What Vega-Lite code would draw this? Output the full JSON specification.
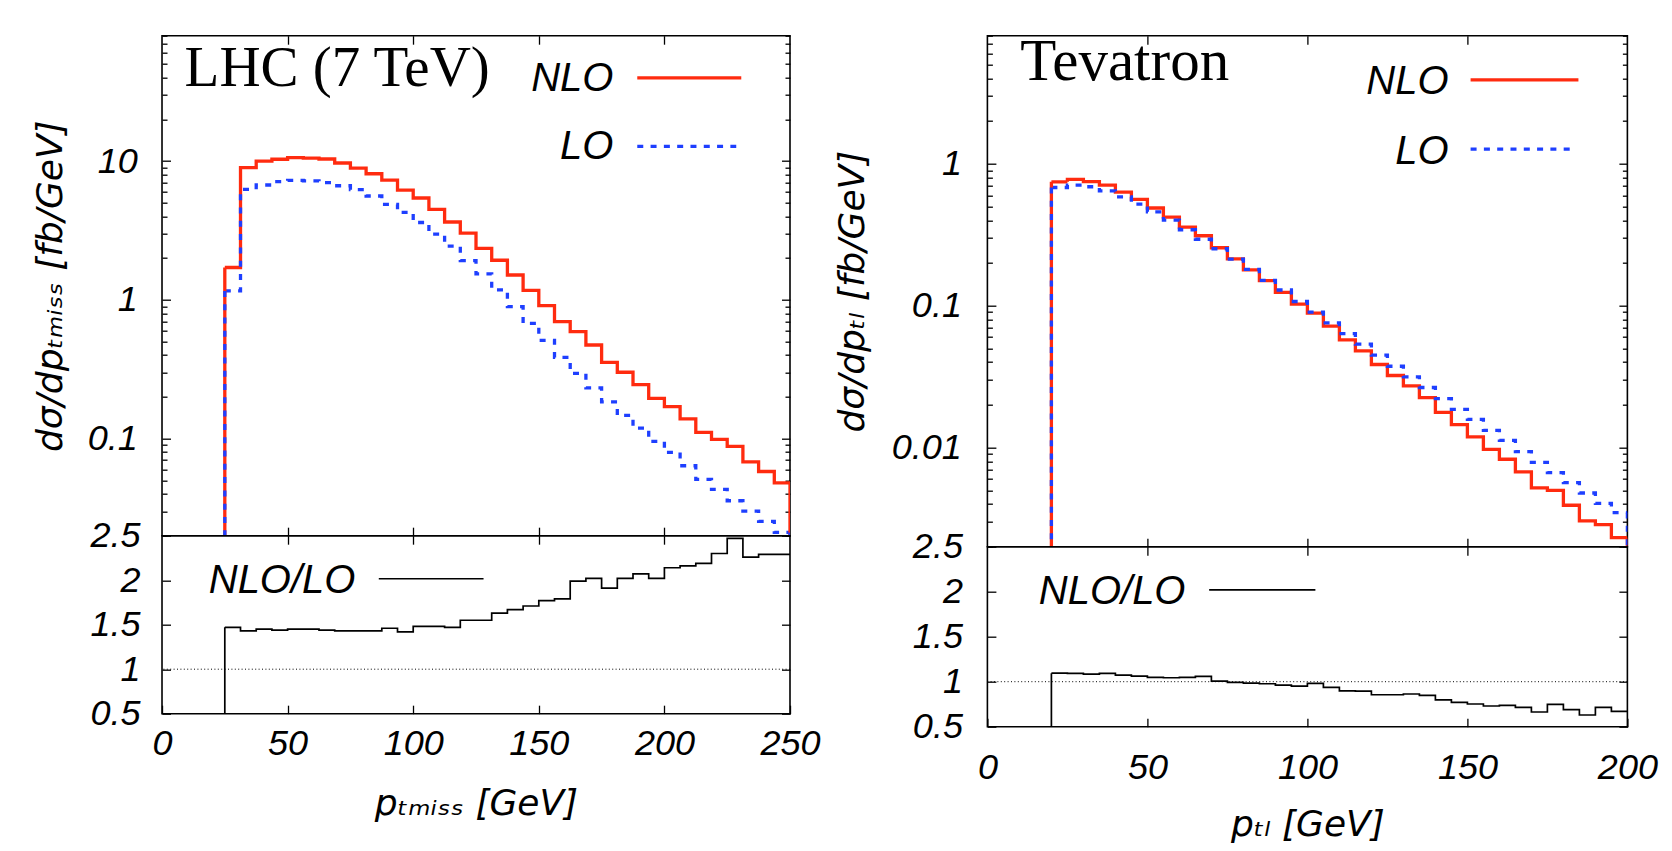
{
  "$schema": "https://vega.github.io/schema/vega-lite/v6.json",
  "background": "white",
  "padding": {"left": 31, "top": 31.7, "right": 5, "bottom": 5},
  "autosize": {"type": "pad"},
  "datasets": {
    "lhc": [
      {"a":25,"b":31.25,"NLO":1.71,"LO":1.16,"R":1.47},
      {"a":31.25,"b":37.5,"NLO":8.96,"LO":6.25,"R":1.43},
      {"a":37.5,"b":43.75,"NLO":10.0,"LO":6.72,"R":1.45},
      {"a":43.75,"b":50,"NLO":10.3,"LO":7.1,"R":1.44},
      {"a":50,"b":56.25,"NLO":10.6,"LO":7.25,"R":1.45},
      {"a":56.25,"b":62.5,"NLO":10.5,"LO":7.2,"R":1.45},
      {"a":62.5,"b":68.75,"NLO":10.35,"LO":7.0,"R":1.44},
      {"a":68.75,"b":75,"NLO":9.68,"LO":6.64,"R":1.43},
      {"a":75,"b":81.25,"NLO":8.9,"LO":6.22,"R":1.43},
      {"a":81.25,"b":87.5,"NLO":8.1,"LO":5.6,"R":1.43},
      {"a":87.5,"b":93.75,"NLO":7.3,"LO":4.87,"R":1.46},
      {"a":93.75,"b":100,"NLO":6.18,"LO":4.27,"R":1.42},
      {"a":100,"b":106.25,"NLO":5.42,"LO":3.61,"R":1.48},
      {"a":106.25,"b":112.5,"NLO":4.48,"LO":2.98,"R":1.48},
      {"a":112.5,"b":118.75,"NLO":3.64,"LO":2.44,"R":1.47},
      {"a":118.75,"b":125,"NLO":3.03,"LO":1.92,"R":1.55},
      {"a":125,"b":131.25,"NLO":2.35,"LO":1.54,"R":1.55},
      {"a":131.25,"b":137.5,"NLO":1.93,"LO":1.18,"R":1.63},
      {"a":137.5,"b":143.75,"NLO":1.51,"LO":0.893,"R":1.67},
      {"a":143.75,"b":150,"NLO":1.17,"LO":0.676,"R":1.71},
      {"a":150,"b":156.25,"NLO":0.908,"LO":0.511,"R":1.77},
      {"a":156.25,"b":162.5,"NLO":0.696,"LO":0.385,"R":1.79},
      {"a":162.5,"b":168.75,"NLO":0.59,"LO":0.295,"R":1.99},
      {"a":168.75,"b":175,"NLO":0.473,"LO":0.232,"R":2.02},
      {"a":175,"b":181.25,"NLO":0.355,"LO":0.184,"R":1.91},
      {"a":181.25,"b":187.5,"NLO":0.301,"LO":0.147,"R":2.02},
      {"a":187.5,"b":193.75,"NLO":0.245,"LO":0.119,"R":2.07},
      {"a":193.75,"b":200,"NLO":0.195,"LO":0.0955,"R":2.02},
      {"a":200,"b":206.25,"NLO":0.17,"LO":0.0796,"R":2.14},
      {"a":206.25,"b":212.5,"NLO":0.139,"LO":0.0638,"R":2.16},
      {"a":212.5,"b":218.75,"NLO":0.111,"LO":0.0509,"R":2.19},
      {"a":218.75,"b":225,"NLO":0.099,"LO":0.0431,"R":2.3},
      {"a":225,"b":231.25,"NLO":0.088,"LO":0.0357,"R":2.47},
      {"a":231.25,"b":237.5,"NLO":0.068,"LO":0.0301,"R":2.26},
      {"a":237.5,"b":243.75,"NLO":0.058,"LO":0.0254,"R":2.29},
      {"a":243.75,"b":250,"NLO":0.048,"LO":0.0211,"R":2.29}
    ],
    "tev": [
      {"a":20,"b":25,"NLO":0.747,"LO":0.681,"R":1.095},
      {"a":25,"b":30,"NLO":0.776,"LO":0.708,"R":1.092},
      {"a":30,"b":35,"NLO":0.75,"LO":0.689,"R":1.084},
      {"a":35,"b":40,"NLO":0.708,"LO":0.645,"R":1.092},
      {"a":40,"b":45,"NLO":0.632,"LO":0.585,"R":1.073},
      {"a":45,"b":50,"NLO":0.561,"LO":0.52,"R":1.062},
      {"a":50,"b":55,"NLO":0.488,"LO":0.459,"R":1.047},
      {"a":55,"b":60,"NLO":0.421,"LO":0.401,"R":1.044},
      {"a":60,"b":65,"NLO":0.358,"LO":0.343,"R":1.047},
      {"a":65,"b":70,"NLO":0.311,"LO":0.294,"R":1.058},
      {"a":70,"b":75,"NLO":0.256,"LO":0.252,"R":1.007},
      {"a":75,"b":80,"NLO":0.214,"LO":0.213,"R":0.992},
      {"a":80,"b":85,"NLO":0.179,"LO":0.18,"R":0.985},
      {"a":85,"b":90,"NLO":0.15,"LO":0.151,"R":0.977},
      {"a":90,"b":95,"NLO":0.124,"LO":0.129,"R":0.962},
      {"a":95,"b":100,"NLO":0.1025,"LO":0.107,"R":0.951},
      {"a":100,"b":105,"NLO":0.0885,"LO":0.09,"R":0.981},
      {"a":105,"b":110,"NLO":0.0717,"LO":0.0757,"R":0.936},
      {"a":110,"b":115,"NLO":0.0574,"LO":0.0636,"R":0.899},
      {"a":115,"b":120,"NLO":0.048,"LO":0.0535,"R":0.895},
      {"a":120,"b":125,"NLO":0.0385,"LO":0.0448,"R":0.855},
      {"a":125,"b":130,"NLO":0.0322,"LO":0.0374,"R":0.855},
      {"a":130,"b":135,"NLO":0.0272,"LO":0.0315,"R":0.863},
      {"a":135,"b":140,"NLO":0.0225,"LO":0.0265,"R":0.847},
      {"a":140,"b":145,"NLO":0.0177,"LO":0.0221,"R":0.799},
      {"a":145,"b":150,"NLO":0.0145,"LO":0.0186,"R":0.77},
      {"a":150,"b":155,"NLO":0.0119,"LO":0.0158,"R":0.752},
      {"a":155,"b":160,"NLO":0.00972,"LO":0.0132,"R":0.73},
      {"a":160,"b":165,"NLO":0.00827,"LO":0.01125,"R":0.737},
      {"a":165,"b":170,"NLO":0.00673,"LO":0.00936,"R":0.714},
      {"a":170,"b":175,"NLO":0.00519,"LO":0.00787,"R":0.663},
      {"a":175,"b":180,"NLO":0.00499,"LO":0.00666,"R":0.748},
      {"a":180,"b":185,"NLO":0.00392,"LO":0.00566,"R":0.689},
      {"a":185,"b":190,"NLO":0.00304,"LO":0.00478,"R":0.63},
      {"a":190,"b":195,"NLO":0.00286,"LO":0.00404,"R":0.714},
      {"a":195,"b":200,"NLO":0.00232,"LO":0.00348,"R":0.67}
    ]
  },
  "spacing": 12.4,
  "hconcat": [
    {
      "bounds": "flush",
      "spacing": 0,
      "vconcat": [
        {
          "width": 628, "height": 500,
          "resolve": {"axis": {"x": "independent", "y": "independent"}},
          "layer": [
            {
              "data": {"name": "lhc"},
              "transform": [{"fold": ["NLO", "LO"], "as": ["series", "val"]}, {"fold": ["a", "b"], "as": ["edgeKey", "edge"]}],
              "mark": {"type": "line", "clip": true, "strokeWidth": 3.3, "strokeCap": "butt"},
              "encoding": {
                "x": {"field": "edge", "type": "quantitative", "scale": {"domain": [0, 250], "nice": false, "zero": false},
                      "axis": {"orient": "bottom", "values": [50, 100, 150, 200], "labels": false, "title": null, "tickSize": -8.5}},
                "y": {"field": "val", "type": "quantitative", "scale": {"type": "log", "domain": [0.02, 80], "nice": false},
                      "axis": {"orient": "left", "values": [0.1, 1, 10], "format": "~g", "tickSize": -8.5, "labelPadding": 33.2, "title": "dσ/dpₜₘᵢₛₛ [fb/GeV]", "titlePadding": 18}},
                "color": {"field": "series", "type": "nominal", "scale": {"domain": ["NLO", "LO"], "range": ["#ff2b0f", "#1e3fff"]}, "legend": null},
                "strokeDash": {"field": "series", "type": "nominal", "scale": {"domain": ["NLO", "LO"], "range": [[1, 0], [6, 7.3]]}, "legend": null},
                "order": [{"field": "a", "type": "quantitative"}, {"field": "edgeKey", "type": "nominal"}]
              }
            },
            {
              "data": {"name": "lhc"},
              "transform": [{"filter": "datum.a == 25"}, {"fold": ["NLO", "LO"], "as": ["series", "val"]}],
              "mark": {"type": "rule", "clip": true, "strokeWidth": 3.3, "strokeCap": "butt"},
              "encoding": {
                "x": {"field": "a", "type": "quantitative", "scale": {"domain": [0, 250], "nice": false, "zero": false}, "axis": null},
                "y": {"field": "val", "type": "quantitative", "scale": {"type": "log", "domain": [0.02, 80], "nice": false}, "axis": null},
                "y2": {"datum": 0.001},
                "color": {"field": "series", "type": "nominal", "scale": {"domain": ["NLO", "LO"], "range": ["#ff2b0f", "#1e3fff"]}, "legend": null},
                "strokeDash": {"field": "series", "type": "nominal", "scale": {"domain": ["NLO", "LO"], "range": [[1, 0], [6, 7.3]]}, "legend": null}
              }
            },
            {
              "data": {"name": "lhc"},
              "transform": [{"filter": "datum.b == 250"}, {"fold": ["NLO", "LO"], "as": ["series", "val"]}],
              "mark": {"type": "rule", "clip": true, "strokeWidth": 3.3, "strokeCap": "butt"},
              "encoding": {
                "x": {"field": "b", "type": "quantitative", "scale": {"domain": [0, 250], "nice": false, "zero": false}, "axis": null},
                "y": {"field": "val", "type": "quantitative", "scale": {"type": "log", "domain": [0.02, 80], "nice": false}, "axis": null},
                "y2": {"datum": 0.001},
                "color": {"field": "series", "type": "nominal", "scale": {"domain": ["NLO", "LO"], "range": ["#ff2b0f", "#1e3fff"]}, "legend": null},
                "strokeDash": {"field": "series", "type": "nominal", "scale": {"domain": ["NLO", "LO"], "range": [[1, 0], [6, 7.3]]}, "legend": null}
              }
            },
            {
              "data": {"values": [{}]},
              "mark": {"type": "text", "text": "LHC (7 TeV)", "font": "Liberation Serif", "fontStyle": "normal", "fontSize": 57, "align": "left", "baseline": "alphabetic"},
              "encoding": {
                "x": {"datum": 9, "type": "quantitative", "scale": {"domain": [0, 250], "nice": false, "zero": false}, "axis": null},
                "y": {"datum": 34.9, "type": "quantitative", "scale": {"type": "log", "domain": [0.02, 80], "nice": false}, "axis": null}
              }
            },
            {
              "data": {"values": [{}]},
              "mark": {"type": "text", "text": "NLO", "align": "right", "baseline": "alphabetic"},
              "encoding": {
                "x": {"datum": 179.7, "type": "quantitative", "scale": {"domain": [0, 250], "nice": false, "zero": false}, "axis": null},
                "y": {"datum": 32.1, "type": "quantitative", "scale": {"type": "log", "domain": [0.02, 80], "nice": false}, "axis": null}
              }
            },
            {
              "data": {"values": [{}]},
              "mark": {"type": "text", "text": "LO", "align": "right", "baseline": "alphabetic"},
              "encoding": {
                "x": {"datum": 179.7, "type": "quantitative", "scale": {"domain": [0, 250], "nice": false, "zero": false}, "axis": null},
                "y": {"datum": 10.4, "type": "quantitative", "scale": {"type": "log", "domain": [0.02, 80], "nice": false}, "axis": null}
              }
            },
            {
              "data": {"values": [{}]},
              "mark": {"type": "rule", "color": "#ff2b0f", "strokeWidth": 3.3},
              "encoding": {
                "x": {"datum": 189.2, "type": "quantitative", "scale": {"domain": [0, 250], "nice": false, "zero": false}, "axis": null},
                "x2": {"datum": 230.6},
                "y": {"datum": 39.7, "type": "quantitative", "scale": {"type": "log", "domain": [0.02, 80], "nice": false}, "axis": null}
              }
            },
            {
              "data": {"values": [{}]},
              "mark": {"type": "rule", "color": "#1e3fff", "strokeWidth": 3.3, "strokeDash": [6, 7.3], "strokeCap": "butt"},
              "encoding": {
                "x": {"datum": 189.2, "type": "quantitative", "scale": {"domain": [0, 250], "nice": false, "zero": false}, "axis": null},
                "x2": {"datum": 228.6},
                "y": {"datum": 12.75, "type": "quantitative", "scale": {"type": "log", "domain": [0.02, 80], "nice": false}, "axis": null}
              }
            },
            {
              "data": {"name": "lhc"},
              "mark": {"type": "point", "opacity": 0},
              "encoding": {
                "x": {"field": "a", "type": "quantitative", "scale": {"domain": [0, 250], "nice": false, "zero": false},
                      "axis": {"orient": "top", "values": [50, 100, 150, 200], "labels": false, "title": null, "tickSize": -8.5}},
                "y": {"field": "NLO", "type": "quantitative", "scale": {"type": "log", "domain": [0.02, 80], "nice": false},
                      "axis": {"orient": "right", "values": [0.1, 1, 10], "labels": false, "title": null, "tickSize": -8.5}}
              }
            },
            {
              "data": {"name": "lhc"},
              "mark": {"type": "point", "opacity": 0},
              "encoding": {
                "x": {"field": "a", "type": "quantitative", "scale": {"domain": [0, 250], "nice": false, "zero": false}, "axis": null},
                "y": {"field": "NLO", "type": "quantitative", "scale": {"type": "log", "domain": [0.02, 80], "nice": false},
                      "axis": {"orient": "left", "values": [0.02,0.03,0.04,0.05,0.06,0.07,0.08,0.09,0.2,0.3,0.4,0.5,0.6,0.7,0.8,0.9,2,3,4,5,6,7,8,9,20,30,40,50,60,70,80], "labels": false, "title": null, "tickSize": -5}}
              }
            },
            {
              "data": {"name": "lhc"},
              "mark": {"type": "point", "opacity": 0},
              "encoding": {
                "x": {"field": "a", "type": "quantitative", "scale": {"domain": [0, 250], "nice": false, "zero": false}, "axis": null},
                "y": {"field": "NLO", "type": "quantitative", "scale": {"type": "log", "domain": [0.02, 80], "nice": false},
                      "axis": {"orient": "right", "values": [0.02,0.03,0.04,0.05,0.06,0.07,0.08,0.09,0.2,0.3,0.4,0.5,0.6,0.7,0.8,0.9,2,3,4,5,6,7,8,9,20,30,40,50,60,70,80], "labels": false, "title": null, "tickSize": -5}}
              }
            }
          ]
        },
        {
          "width": 628, "height": 178,
          "resolve": {"axis": {"x": "independent", "y": "independent"}},
          "layer": [
            {
              "data": {"name": "lhc"},
              "transform": [{"fold": ["a", "b"], "as": ["edgeKey", "edge"]}],
              "mark": {"type": "line", "clip": true, "strokeWidth": 1.7, "color": "black"},
              "encoding": {
                "x": {"field": "edge", "type": "quantitative", "scale": {"domain": [0, 250], "nice": false, "zero": false},
                      "axis": {"orient": "bottom", "values": [0, 50, 100, 150, 200, 250], "tickSize": -8.5, "labelPadding": 21.6, "title": "pₜₘᵢₛₛ [GeV]", "titlePadding": 24.4}},
                "y": {"field": "R", "type": "quantitative", "scale": {"domain": [0.5, 2.5], "nice": false, "zero": false},
                      "axis": {"orient": "left", "values": [0.5, 1, 1.5, 2, 2.5], "format": "~g", "tickSize": -8.5, "labelPadding": 30.5, "title": null}},
                "order": [{"field": "a", "type": "quantitative"}, {"field": "edgeKey", "type": "nominal"}]
              }
            },
            {
              "data": {"name": "lhc"},
              "transform": [{"filter": "datum.a == 25"}],
              "mark": {"type": "rule", "clip": true, "strokeWidth": 1.7, "color": "black"},
              "encoding": {
                "x": {"field": "a", "type": "quantitative", "scale": {"domain": [0, 250], "nice": false, "zero": false}, "axis": null},
                "y": {"field": "R", "type": "quantitative", "scale": {"domain": [0.5, 2.5], "nice": false, "zero": false}, "axis": null},
                "y2": {"datum": 0.3}
              }
            },
            {
              "data": {"values": [{}]},
              "mark": {"type": "rule", "color": "black", "strokeWidth": 1, "strokeDash": [1, 2.4]},
              "encoding": {
                "y": {"datum": 1, "type": "quantitative", "scale": {"domain": [0.5, 2.5], "nice": false, "zero": false}, "axis": null}
              }
            },
            {
              "data": {"values": [{}]},
              "mark": {"type": "text", "text": "NLO/LO", "align": "right", "baseline": "alphabetic"},
              "encoding": {
                "x": {"datum": 77.0, "type": "quantitative", "scale": {"domain": [0, 250], "nice": false, "zero": false}, "axis": null},
                "y": {"datum": 1.858, "type": "quantitative", "scale": {"domain": [0.5, 2.5], "nice": false, "zero": false}, "axis": null}
              }
            },
            {
              "data": {"values": [{}]},
              "mark": {"type": "rule", "color": "black", "strokeWidth": 1.7},
              "encoding": {
                "x": {"datum": 86.3, "type": "quantitative", "scale": {"domain": [0, 250], "nice": false, "zero": false}, "axis": null},
                "x2": {"datum": 128.0},
                "y": {"datum": 2.016, "type": "quantitative", "scale": {"domain": [0.5, 2.5], "nice": false, "zero": false}, "axis": null}
              }
            },
            {
              "data": {"name": "lhc"},
              "mark": {"type": "point", "opacity": 0},
              "encoding": {
                "x": {"field": "a", "type": "quantitative", "scale": {"domain": [0, 250], "nice": false, "zero": false},
                      "axis": {"orient": "top", "values": [50, 100, 150, 200], "labels": false, "title": null, "tickSize": -8.5}},
                "y": {"field": "R", "type": "quantitative", "scale": {"domain": [0.5, 2.5], "nice": false, "zero": false},
                      "axis": {"orient": "right", "values": [0.5, 1, 1.5, 2, 2.5], "labels": false, "title": null, "tickSize": -8.5}}
              }
            }
          ]
        }
      ]
    },
    {
      "bounds": "flush",
      "spacing": 0,
      "vconcat": [
        {
          "width": 640, "height": 511,
          "resolve": {"axis": {"x": "independent", "y": "independent"}},
          "layer": [
            {
              "data": {"name": "tev"},
              "transform": [{"fold": ["NLO", "LO"], "as": ["series", "val"]}, {"fold": ["a", "b"], "as": ["edgeKey", "edge"]}],
              "mark": {"type": "line", "clip": true, "strokeWidth": 3.3, "strokeCap": "butt"},
              "encoding": {
                "x": {"field": "edge", "type": "quantitative", "scale": {"domain": [0, 200], "nice": false, "zero": false},
                      "axis": {"orient": "bottom", "values": [50, 100, 150], "labels": false, "title": null, "tickSize": -8.5}},
                "y": {"field": "val", "type": "quantitative", "scale": {"type": "log", "domain": [0.002, 8], "nice": false},
                      "axis": {"orient": "left", "values": [0.01, 0.1, 1], "format": "~g", "tickSize": -8.5, "labelPadding": 34.5, "title": "dσ/dpₜₗ [fb/GeV]", "titlePadding": 20}},
                "color": {"field": "series", "type": "nominal", "scale": {"domain": ["NLO", "LO"], "range": ["#ff2b0f", "#1e3fff"]}, "legend": null},
                "strokeDash": {"field": "series", "type": "nominal", "scale": {"domain": ["NLO", "LO"], "range": [[1, 0], [6, 7.3]]}, "legend": null},
                "order": [{"field": "a", "type": "quantitative"}, {"field": "edgeKey", "type": "nominal"}]
              }
            },
            {
              "data": {"name": "tev"},
              "transform": [{"filter": "datum.a == 20"}, {"fold": ["NLO", "LO"], "as": ["series", "val"]}],
              "mark": {"type": "rule", "clip": true, "strokeWidth": 3.3, "strokeCap": "butt"},
              "encoding": {
                "x": {"field": "a", "type": "quantitative", "scale": {"domain": [0, 200], "nice": false, "zero": false}, "axis": null},
                "y": {"field": "val", "type": "quantitative", "scale": {"type": "log", "domain": [0.002, 8], "nice": false}, "axis": null},
                "y2": {"datum": 0.0001},
                "color": {"field": "series", "type": "nominal", "scale": {"domain": ["NLO", "LO"], "range": ["#ff2b0f", "#1e3fff"]}, "legend": null},
                "strokeDash": {"field": "series", "type": "nominal", "scale": {"domain": ["NLO", "LO"], "range": [[1, 0], [6, 7.3]]}, "legend": null}
              }
            },
            {
              "data": {"name": "tev"},
              "transform": [{"filter": "datum.b == 200"}, {"fold": ["NLO", "LO"], "as": ["series", "val"]}],
              "mark": {"type": "rule", "clip": true, "strokeWidth": 3.3, "strokeCap": "butt"},
              "encoding": {
                "x": {"field": "b", "type": "quantitative", "scale": {"domain": [0, 200], "nice": false, "zero": false}, "axis": null},
                "y": {"field": "val", "type": "quantitative", "scale": {"type": "log", "domain": [0.002, 8], "nice": false}, "axis": null},
                "y2": {"datum": 0.0001},
                "color": {"field": "series", "type": "nominal", "scale": {"domain": ["NLO", "LO"], "range": ["#ff2b0f", "#1e3fff"]}, "legend": null},
                "strokeDash": {"field": "series", "type": "nominal", "scale": {"domain": ["NLO", "LO"], "range": [[1, 0], [6, 7.3]]}, "legend": null}
              }
            },
            {
              "data": {"values": [{}]},
              "mark": {"type": "text", "text": "Tevatron", "font": "Liberation Serif", "fontStyle": "normal", "fontSize": 59, "align": "left", "baseline": "alphabetic"},
              "encoding": {
                "x": {"datum": 10.3, "type": "quantitative", "scale": {"domain": [0, 200], "nice": false, "zero": false}, "axis": null},
                "y": {"datum": 3.91, "type": "quantitative", "scale": {"type": "log", "domain": [0.002, 8], "nice": false}, "axis": null}
              }
            },
            {
              "data": {"values": [{}]},
              "mark": {"type": "text", "text": "NLO", "align": "right", "baseline": "alphabetic"},
              "encoding": {
                "x": {"datum": 144.1, "type": "quantitative", "scale": {"domain": [0, 200], "nice": false, "zero": false}, "axis": null},
                "y": {"datum": 3.13, "type": "quantitative", "scale": {"type": "log", "domain": [0.002, 8], "nice": false}, "axis": null}
              }
            },
            {
              "data": {"values": [{}]},
              "mark": {"type": "text", "text": "LO", "align": "right", "baseline": "alphabetic"},
              "encoding": {
                "x": {"datum": 144.1, "type": "quantitative", "scale": {"domain": [0, 200], "nice": false, "zero": false}, "axis": null},
                "y": {"datum": 1.005, "type": "quantitative", "scale": {"type": "log", "domain": [0.002, 8], "nice": false}, "axis": null}
              }
            },
            {
              "data": {"values": [{}]},
              "mark": {"type": "rule", "color": "#ff2b0f", "strokeWidth": 3.3},
              "encoding": {
                "x": {"datum": 151.0, "type": "quantitative", "scale": {"domain": [0, 200], "nice": false, "zero": false}, "axis": null},
                "x2": {"datum": 184.7},
                "y": {"datum": 3.91, "type": "quantitative", "scale": {"type": "log", "domain": [0.002, 8], "nice": false}, "axis": null}
              }
            },
            {
              "data": {"values": [{}]},
              "mark": {"type": "rule", "color": "#1e3fff", "strokeWidth": 3.3, "strokeDash": [6, 7.3], "strokeCap": "butt"},
              "encoding": {
                "x": {"datum": 151.0, "type": "quantitative", "scale": {"domain": [0, 200], "nice": false, "zero": false}, "axis": null},
                "x2": {"datum": 182.1},
                "y": {"datum": 1.27, "type": "quantitative", "scale": {"type": "log", "domain": [0.002, 8], "nice": false}, "axis": null}
              }
            },
            {
              "data": {"name": "tev"},
              "mark": {"type": "point", "opacity": 0},
              "encoding": {
                "x": {"field": "a", "type": "quantitative", "scale": {"domain": [0, 200], "nice": false, "zero": false},
                      "axis": {"orient": "top", "values": [50, 100, 150], "labels": false, "title": null, "tickSize": -8.5}},
                "y": {"field": "NLO", "type": "quantitative", "scale": {"type": "log", "domain": [0.002, 8], "nice": false},
                      "axis": {"orient": "right", "values": [0.01, 0.1, 1], "labels": false, "title": null, "tickSize": -8.5}}
              }
            },
            {
              "data": {"name": "tev"},
              "mark": {"type": "point", "opacity": 0},
              "encoding": {
                "x": {"field": "a", "type": "quantitative", "scale": {"domain": [0, 200], "nice": false, "zero": false}, "axis": null},
                "y": {"field": "NLO", "type": "quantitative", "scale": {"type": "log", "domain": [0.002, 8], "nice": false},
                      "axis": {"orient": "left", "values": [0.002,0.003,0.004,0.005,0.006,0.007,0.008,0.009,0.02,0.03,0.04,0.05,0.06,0.07,0.08,0.09,0.2,0.3,0.4,0.5,0.6,0.7,0.8,0.9,2,3,4,5,6,7,8], "labels": false, "title": null, "tickSize": -5}}
              }
            },
            {
              "data": {"name": "tev"},
              "mark": {"type": "point", "opacity": 0},
              "encoding": {
                "x": {"field": "a", "type": "quantitative", "scale": {"domain": [0, 200], "nice": false, "zero": false}, "axis": null},
                "y": {"field": "NLO", "type": "quantitative", "scale": {"type": "log", "domain": [0.002, 8], "nice": false},
                      "axis": {"orient": "right", "values": [0.002,0.003,0.004,0.005,0.006,0.007,0.008,0.009,0.02,0.03,0.04,0.05,0.06,0.07,0.08,0.09,0.2,0.3,0.4,0.5,0.6,0.7,0.8,0.9,2,3,4,5,6,7,8], "labels": false, "title": null, "tickSize": -5}}
              }
            }
          ]
        },
        {
          "width": 640, "height": 180,
          "resolve": {"axis": {"x": "independent", "y": "independent"}},
          "layer": [
            {
              "data": {"name": "tev"},
              "transform": [{"fold": ["a", "b"], "as": ["edgeKey", "edge"]}],
              "mark": {"type": "line", "clip": true, "strokeWidth": 1.7, "color": "black"},
              "encoding": {
                "x": {"field": "edge", "type": "quantitative", "scale": {"domain": [0, 200], "nice": false, "zero": false},
                      "axis": {"orient": "bottom", "values": [0, 50, 100, 150, 200], "tickSize": -8.5, "labelPadding": 32.7, "title": "pₜₗ [GeV]", "titlePadding": 22}},
                "y": {"field": "R", "type": "quantitative", "scale": {"domain": [0.5, 2.5], "nice": false, "zero": false},
                      "axis": {"orient": "left", "values": [0.5, 1, 1.5, 2, 2.5], "format": "~g", "tickSize": -8.5, "labelPadding": 33.5, "title": null}},
                "order": [{"field": "a", "type": "quantitative"}, {"field": "edgeKey", "type": "nominal"}]
              }
            },
            {
              "data": {"name": "tev"},
              "transform": [{"filter": "datum.a == 20"}],
              "mark": {"type": "rule", "clip": true, "strokeWidth": 1.7, "color": "black"},
              "encoding": {
                "x": {"field": "a", "type": "quantitative", "scale": {"domain": [0, 200], "nice": false, "zero": false}, "axis": null},
                "y": {"field": "R", "type": "quantitative", "scale": {"domain": [0.5, 2.5], "nice": false, "zero": false}, "axis": null},
                "y2": {"datum": 0.3}
              }
            },
            {
              "data": {"values": [{}]},
              "mark": {"type": "rule", "color": "black", "strokeWidth": 1, "strokeDash": [1, 2.4]},
              "encoding": {
                "y": {"datum": 1, "type": "quantitative", "scale": {"domain": [0.5, 2.5], "nice": false, "zero": false}, "axis": null}
              }
            },
            {
              "data": {"values": [{}]},
              "mark": {"type": "text", "text": "NLO/LO", "align": "right", "baseline": "alphabetic"},
              "encoding": {
                "x": {"datum": 61.9, "type": "quantitative", "scale": {"domain": [0, 200], "nice": false, "zero": false}, "axis": null},
                "y": {"datum": 1.861, "type": "quantitative", "scale": {"domain": [0.5, 2.5], "nice": false, "zero": false}, "axis": null}
              }
            },
            {
              "data": {"values": [{}]},
              "mark": {"type": "rule", "color": "black", "strokeWidth": 1.7},
              "encoding": {
                "x": {"datum": 69.3, "type": "quantitative", "scale": {"domain": [0, 200], "nice": false, "zero": false}, "axis": null},
                "x2": {"datum": 102.5},
                "y": {"datum": 2.02, "type": "quantitative", "scale": {"domain": [0.5, 2.5], "nice": false, "zero": false}, "axis": null}
              }
            },
            {
              "data": {"name": "tev"},
              "mark": {"type": "point", "opacity": 0},
              "encoding": {
                "x": {"field": "a", "type": "quantitative", "scale": {"domain": [0, 200], "nice": false, "zero": false},
                      "axis": {"orient": "top", "values": [50, 100, 150], "labels": false, "title": null, "tickSize": -8.5}},
                "y": {"field": "R", "type": "quantitative", "scale": {"domain": [0.5, 2.5], "nice": false, "zero": false},
                      "axis": {"orient": "right", "values": [0.5, 1, 1.5, 2, 2.5], "labels": false, "title": null, "tickSize": -8.5}}
              }
            }
          ]
        }
      ]
    }
  ],
  "config": {
    "view": {"stroke": "black", "strokeWidth": 1.6},
    "axis": {
      "grid": false, "domain": false, "tickColor": "black", "tickWidth": 1.3,
      "labelFont": "Liberation Sans", "labelFontStyle": "italic", "labelFontSize": 36, "labelColor": "black",
      "labelOverlap": false, "labelFlush": false, "labelBound": false,
      "titleFont": "DejaVu Sans", "titleFontStyle": "oblique", "titleFontWeight": "normal", "titleFontSize": 36, "titleColor": "black"
    },
    "text": {"font": "Liberation Sans", "fontStyle": "italic", "fontSize": 40, "color": "black"}
  }
}
